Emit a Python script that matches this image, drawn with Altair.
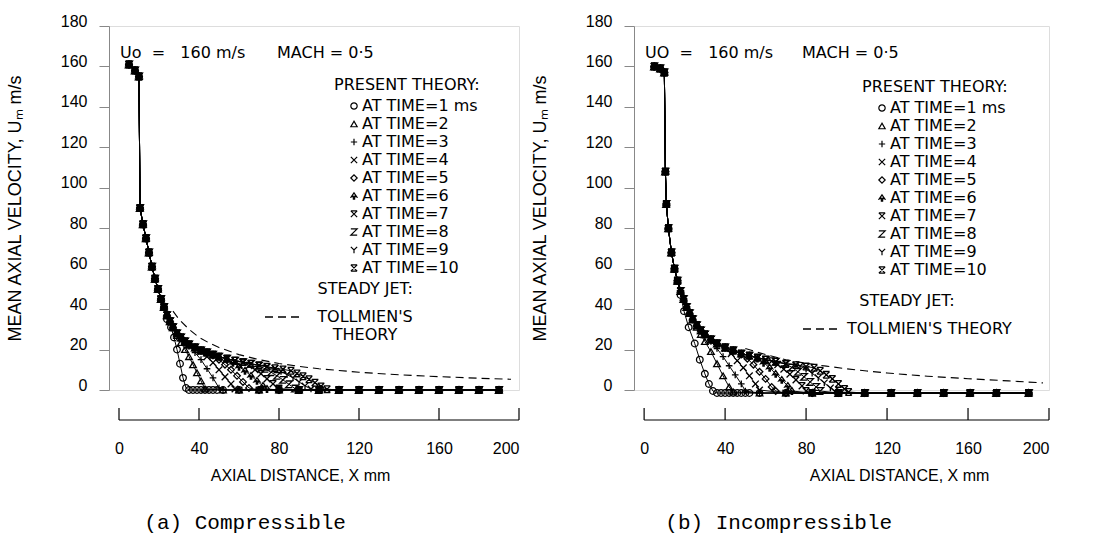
import altair as alt
import pandas as pd

FONT = "DejaVu Sans"
NB = "\u00a0"

# ---------------- shared labels / ticks ----------------
time_labels = ["AT TIME=1 ms", "AT TIME=2", "AT TIME=3", "AT TIME=4", "AT TIME=5",
               "AT TIME=6", "AT TIME=7", "AT TIME=8", "AT TIME=9", "AT TIME=10"]
time_shapes = [
    "circle",
    "triangle-up",
    "M-1,0L1,0M0,-1L0,1",
    "M-1,-1L1,1M-1,1L1,-1",
    "diamond",
    "M0,-1L0.9,0.3L0.2,0.1L0.2,1L-0.2,1L-0.2,0.1L-0.9,0.3Z",
    "M-1,-1L1,-1M-1,-1L1,1M1,-1L-1,1",
    "M-1,-1L1,-1L-1,1L1,1",
    "M-1,-1L0,0L1,-1M0,0L0,1",
    "M-1,-1L1,-1M-1,1L1,1M-1,-1L1,1M1,-1L-1,1",
]
x_ticks = [0, 40, 80, 120, 160, 200]
y_ticks = [0, 20, 40, 60, 80, 100, 120, 140, 160, 180]
tollmien_name = "TOLLMIEN'S THEORY"

# ---------------- (a) compressible ----------------
a_env_x = [5, 8, 10, 10.5, 12, 13.5, 15, 16.5, 18, 19.5, 21, 22.5, 24, 25.5, 27, 29, 31, 33,
           35, 38, 41, 44, 47, 50, 54, 58, 62, 66, 70, 74, 78, 82, 86]
a_env_u = [161, 158, 155, 90, 82, 75, 68, 61, 55, 50, 45, 41, 37, 34, 31, 28, 26, 24,
           22.5, 21, 19.5, 18.5, 17.5, 16.5, 15.5, 14.5, 13.8, 13, 12.2, 11.5, 10.8, 10.2, 9.6]
a_dep_x = [
    [24, 26, 27.5, 29, 30.5, 32, 33.5, 35, 37, 39, 41, 43, 45, 47, 49],
    [29, 31, 33, 35, 37, 39, 41, 43],
    [35, 38, 41, 44, 47, 50],
    [41, 44, 47, 50, 53, 56, 58],
    [47, 50, 53, 56, 59, 62, 65],
    [54, 57, 60, 63, 66, 69, 72, 74],
    [62, 65, 68, 71, 74, 77, 80],
    [70, 73, 76, 79, 82, 85, 88],
    [78, 81, 84, 87, 90, 93, 96],
    [86, 89, 92, 95, 98, 101, 104],
]
a_dep_u = [
    [35, 31, 26, 20, 13, 6, 1, 0, 0, 0, 0, 0, 0, 0, 0],
    [27, 23.5, 20, 16.5, 12.5, 8.5, 4.5, 0.5],
    [21.5, 18.5, 15, 10.5, 6, 1],
    [19, 16.5, 13.5, 10, 6.5, 3, 0.5],
    [17, 15, 12.5, 10, 7, 4, 1],
    [15.2, 13.5, 11.5, 9.5, 7, 4.5, 2, 0.5],
    [13.6, 12, 10, 8, 5.5, 3, 0.7],
    [12, 10.5, 8.8, 7, 5, 2.8, 0.7],
    [10.6, 9.2, 7.6, 6, 4, 2, 0.5],
    [9.5, 8.2, 6.8, 5.3, 3.6, 1.8, 0.4],
]
a_tail_x = [52, 60, 70, 80, 90, 100, 110, 120, 130, 140, 150, 160, 170, 180, 190]
a_tail_u = 0
a_tol_x = [27, 30, 35, 40, 45, 50, 60, 70, 80, 90, 100, 120, 140, 160, 180, 196]
a_tol_u = [39, 35, 30, 26, 23.3, 21, 17.5, 15, 13.1, 11.7, 10.5, 8.8, 7.5, 6.6, 5.8, 5.3]

# ---------------- (b) incompressible ----------------
b_env_x = [5, 8, 10, 10.5, 11, 12, 13.5, 15, 16.5, 18, 19.5, 21, 22.5, 24, 26, 28, 30, 33,
           36, 40, 44, 48, 52, 56, 60, 65, 70, 75, 80, 85, 90]
b_env_u = [160, 159, 157, 108, 92, 80, 68, 60, 54, 49, 45, 41, 38, 35, 32, 29.5, 27.5, 25,
           23, 21, 19.5, 18, 17, 16, 15, 14, 13, 12.3, 11.6, 11, 10.3]
b_dep_x = [
    [18, 19.7, 22, 25, 27.5, 30, 32, 34, 36, 38, 40, 42, 44, 46, 48, 50, 52],
    [26, 28, 30, 33, 36, 39, 42, 44],
    [33, 36, 39, 42, 45, 48, 50],
    [40, 43, 46, 49, 52, 55, 57],
    [48, 51, 54, 57, 60, 63, 65],
    [56, 59, 62, 65, 68, 71, 73],
    [63, 66, 69, 72, 75, 78, 80],
    [70, 73, 76, 79, 82, 85, 87],
    [77, 80, 83, 86, 89, 92, 94],
    [84, 87, 90, 93, 96, 99, 101],
]
b_dep_u = [
    [47, 39, 31, 23, 15, 8, 3, -0.5, -1.5, -1.5, -1.5, -1.5, -1.5, -1.5, -1.5, -1.5, -1.5],
    [31, 27.5, 24, 19, 13, 7, 1.5, -1],
    [24, 20.5, 16.5, 12, 7.5, 3, -0.5],
    [20.5, 18, 14.5, 11, 7, 3, 0],
    [17.5, 15.5, 12.5, 9, 5.5, 1.5, -0.5],
    [15.6, 13.5, 11, 8, 5, 2, -0.5],
    [14.2, 12.5, 10.3, 7.8, 5, 2, -0.5],
    [12.8, 11.2, 9, 6.5, 4, 1.5, -0.5],
    [11.8, 10.3, 8.3, 6, 3.5, 1, -0.5],
    [11, 9.5, 7.5, 5.5, 3, 0.5, -1],
]
b_tail_x = [57, 70, 83, 96, 109, 122, 135, 148, 161, 174, 190]
b_tail_u = -1.5
b_tol_x = [50, 55, 60, 70, 80, 90, 100, 110, 120, 140, 160, 180, 197]
b_tol_u = [20.5, 19, 17.5, 15, 13.2, 11.8, 10.5, 9.4, 8.4, 6.8, 5.6, 4.5, 3.5]


def build_series(env_x, env_u, dep_x, dep_u, tail_x, tail_u):
    rows = []
    for lab, dx, du in zip(time_labels, dep_x, dep_u):
        for x, u in zip(env_x, env_u):
            if x < dx[0]:
                rows.append({"x": x, "u": u, "series": lab})
        for x, u in zip(dx, du):
            rows.append({"x": x, "u": u, "series": lab})
        for x in tail_x:
            if x > dx[-1]:
                rows.append({"x": x, "u": tail_u, "series": lab})
    return pd.DataFrame(rows)


H = 364
AX_OFF = 30


def make_panel(df, tol_df, width, uo_text, caption, shape_pos, dash_pos, dash_anchor,
               dash_label_expr, dash_label_align, dash_label_offset, xtitle_x, cap_dx):
    x_enc = alt.X("x:Q", scale=alt.Scale(domain=[-5, 200], nice=False, zero=False),
                  axis=alt.Axis(values=x_ticks, offset=AX_OFF, domain=False, ticks=False,
                                tickSize=0, labelPadding=20, grid=False,
                                title="AXIAL DISTANCE, X mm", titlePadding=11,
                                titleX=xtitle_x, labelFontSize=16, titleFontSize=16,
                                titleFontWeight="normal"))
    y_enc = alt.Y("u:Q", scale=alt.Scale(domain=[0, 180], nice=False, zero=False),
                  axis=alt.Axis(values=y_ticks, grid=False, tickSize=10, labelPadding=12,
                                labelBaseline="alphabetic",
                                title="MEAN AXIAL VELOCITY, U\u2098 m/s",
                                titlePadding=36, labelFontSize=16, titleFontSize=18,
                                titleFontWeight="normal"))
    lines = alt.Chart(df).mark_line(color="black", strokeWidth=1).encode(
        x=x_enc, y=y_enc, detail="series:N")
    tol = alt.Chart(tol_df).mark_line(color="black", strokeWidth=1.1).encode(
        x="x:Q", y="u:Q",
        strokeDash=alt.StrokeDash("name:N",
                                  scale=alt.Scale(domain=[tollmien_name], range=[[8, 5]]),
                                  legend=alt.Legend(
                                      title="STEADY JET:", orient="none",
                                      legendX=dash_pos[0], legendY=dash_pos[1],
                                      titleAnchor=dash_anchor,
                                      symbolType="stroke", symbolSize=1444,
                                      symbolStrokeWidth=1.4, symbolStrokeColor="black",
                                      symbolDash=[10, 6],
                                      labelExpr=dash_label_expr, labelAlign=dash_label_align,
                                      labelOffset=dash_label_offset,
                                      labelFont=FONT, labelFontSize=16, labelColor="black",
                                      titleFont=FONT, titleFontSize=16, titleFontWeight="normal",
                                      titleColor="black", titlePadding=0, padding=0,
                                      labelLimit=400, titleLimit=400)))
    pts = alt.Chart(df).mark_point(filled=False, color="black", size=44, strokeWidth=1.3,
                                   opacity=1).encode(
        x="x:Q", y="u:Q",
        shape=alt.Shape("series:N",
                        scale=alt.Scale(domain=time_labels, range=time_shapes),
                        legend=alt.Legend(title="PRESENT THEORY:", orient="none",
                                          legendX=shape_pos[0], legendY=shape_pos[1],
                                          symbolSize=40, symbolStrokeWidth=1.2,
                                          symbolStrokeColor="black", symbolOffset=12,
                                          labelOffset=0, rowPadding=2, titlePadding=5,
                                          labelFont=FONT, labelFontSize=16, labelColor="black",
                                          titleFont=FONT, titleFontSize=16,
                                          titleFontWeight="normal", titleColor="black",
                                          padding=0, labelLimit=400, titleLimit=400)))
    ann = alt.Chart(pd.DataFrame({"label": uo_text, "px": [11, 168]})).mark_text(
        align="left", baseline="middle", font=FONT, fontSize=16, color="black").encode(
        x=alt.X("px:Q", scale=None), y=alt.value(27), text="label:N")
    axis_line = alt.Chart(pd.DataFrame({"x": [0], "x2": [200]})).mark_rule(
        color="black", strokeWidth=1.2).encode(x="x:Q", x2="x2:Q", y=alt.value(H + AX_OFF))
    tick_rules = alt.Chart(pd.DataFrame({"x": x_ticks})).mark_rule(
        color="black", strokeWidth=1.2).encode(x="x:Q", y=alt.value(H + AX_OFF - 12),
                                               y2=alt.value(H + AX_OFF))
    return alt.layer(lines, tol, pts, ann, axis_line, tick_rules).properties(
        width=width, height=H,
        title=alt.TitleParams(text=caption, orient="bottom", anchor="start", dx=cap_dx,
                              offset=29, font="Liberation Mono", fontSize=21,
                              fontWeight="normal", color="black"))


df_a = build_series(a_env_x, a_env_u, a_dep_x, a_dep_u, a_tail_x, a_tail_u)
df_b = build_series(b_env_x, b_env_u, b_dep_x, b_dep_u, b_tail_x, b_tail_u)
tol_a = pd.DataFrame({"x": a_tol_x, "u": a_tol_u, "name": tollmien_name})
tol_b = pd.DataFrame({"x": b_tol_x, "u": b_tol_u, "name": tollmien_name})

uo_a = "Uo" + NB * 2 + "=" + NB * 3 + "160 m/s"
uo_b = "UO" + NB * 2 + "=" + NB * 3 + "160 m/s"

left = make_panel(df_a, tol_a, 410, [uo_a, "MACH = 0\u00b75"], "(a) Compressible",
                  (225, 51), (155, 255), "end",
                  '["TOLLMIEN\'S", "THEORY"]', "center", 61, 191, 138)
right = make_panel(df_b, tol_b, 415, [uo_b, "MACH = 0\u00b75"], "(b) Incompressible",
                   (228, 53), (168, 267), "middle",
                   "datum.label", "left", 5, 265, 134)

chart = alt.hconcat(left, right, spacing=115, bounds="flush").resolve_scale(
    shape="independent", strokeDash="independent", x="independent", y="independent"
).resolve_legend(shape="independent", strokeDash="independent").properties(
    padding={"left": 5, "top": 12, "right": 5, "bottom": 0}
).configure_view(stroke=None).configure_axis(
    domainColor="black", tickColor="black", labelColor="black", titleColor="black",
    labelFont=FONT, titleFont=FONT, domainWidth=1.2, tickWidth=1.2
).configure(background="white")

chart.save("out.html", embed_options={"renderer": "svg", "actions": False})
